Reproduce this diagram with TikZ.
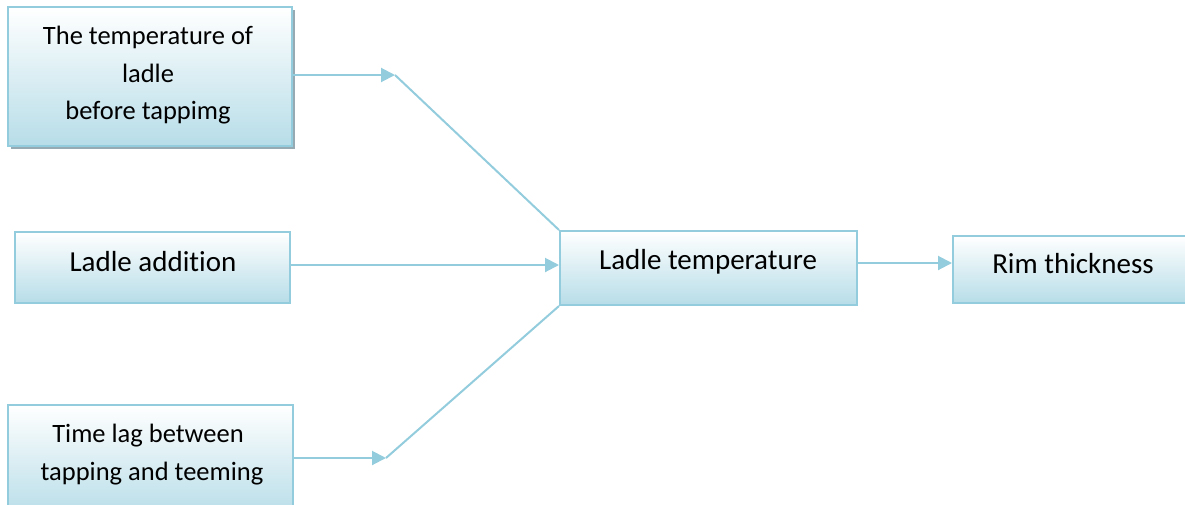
\documentclass[tikz,border=0pt]{standalone}
\usepackage{fontspec}
\setmainfont{Carlito}[Ligatures=CommonOff]
\usetikzlibrary{arrows.meta,shadows}
\definecolor{edge}{RGB}{147,205,221}
\definecolor{fillb}{RGB}{183,221,232}
\definecolor{shad}{RGB}{150,170,180}
\begin{document}
\begin{tikzpicture}[x=1pt,y=-1pt,
  box/.style={draw=edge,line width=2pt,top color=white,bottom color=fillb,
    minimum width=#1,inner sep=0pt},
  lbl/.style={anchor=base,inner sep=0pt,font=\fontsize{29}{37.5}\selectfont},
  lbls/.style={lbl,font=\fontsize{26.5}{37.5}\selectfont},
  link/.style={draw=edge,line width=2pt},
  arr/.style={link,-{Triangle[length=14pt,width=14pt]}}]
\clip (0,0) rectangle (1185,504);
\fill[white] (0,0) rectangle (1185,504);
\node[box=284pt,minimum height=139pt,drop shadow={shadow xshift=3pt,shadow yshift=-3pt,fill=shad,opacity=1}]
  (t1) at (150,76.5) {};
\node[lbls] (t1a) at (148,44) {The temperature of};
\node[lbls] (t1b) at (148,82) {ladle};
\node[lbls] (t1c) at (148,119) {before tappimg};
\node[box=275pt,minimum height=71pt] (t2) at (152.5,267.5) {};
\node[lbl] (t2t) at (153,271) {Ladle addition};
\node[box=285pt,minimum height=112pt] (t3) at (150.5,461) {};
\node[lbls] (t3a) at (148,442.5) {Time lag between};
\node[lbls] (t3b) at (152,480) {tapping and teeming};
\node[box=297pt,minimum height=74pt] (lt) at (708.5,268) {};
\node[lbl] (ltt) at (708,269.5) {Ladle temperature};
\node[box=240pt,minimum height=67pt] (rt) at (1073,269.5) {};
\node[lbl] (rtt) at (1073,273.5) {Rim thickness};
\coordinate (k1) at (395,75);
\coordinate (k3) at (386,458);
\draw[arr] (t1.east |- k1) -- (k1);
\draw[link] (k1) -- (lt.north west);
\draw[arr] (t2.east |- 0,265) -- (lt.west |- 0,265);
\draw[arr] (t3.east |- k3) -- (k3);
\draw[link] (k3) -- (lt.south west);
\draw[arr] (lt.east |- 0,263) -- (rt.west |- 0,263);
\end{tikzpicture}
\end{document}
